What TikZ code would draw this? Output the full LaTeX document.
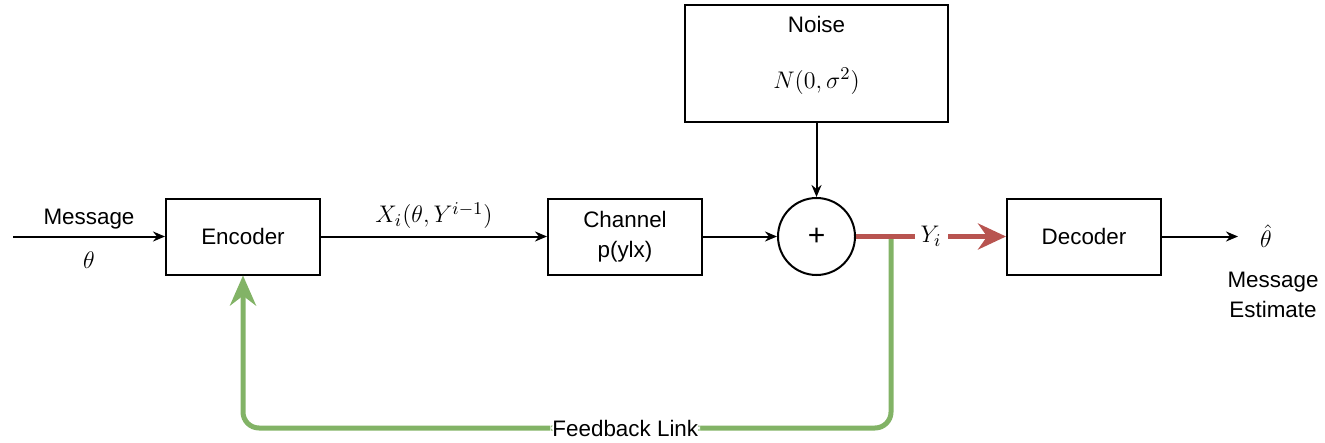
\documentclass[tikz,border=0pt]{standalone}
\usepackage{fontspec}
\setmainfont{Liberation Sans}
\usepackage{amsmath}
\usepackage{xcolor}
\usetikzlibrary{shapes.geometric, arrows, arrows.meta, positioning}
\definecolor{fbgreen}{RGB}{130,179,102}
\definecolor{outred}{RGB}{184,84,80}
\tikzstyle{arrow} = [line width=1pt,->,>={Stealth[length=6pt,width=5pt]}]
\tikzstyle{block} = [draw, line width=1pt, rectangle, minimum width=77pt, minimum height=38pt]
\tikzstyle{txt} = [font=\fontsize{11.2}{15}\selectfont]
\tikzstyle{mathtxt} = [font=\fontsize{13}{15}\selectfont]

\begin{document}
\begin{tikzpicture}[x=0.5pt, y=-0.5pt, every node/.style={txt}]
		\useasboundingbox (0,0) rectangle (1325,443);

		% blocks
		\node[block] (enc) at (243,236.5) {Encoder};
		\node[block, align=center] (chan) at (625,236.5) {Channel\\p(ylx)};
		\node[draw, line width=1pt, rectangle, minimum width=131.5pt, minimum height=58.5pt] (noise) at (816.5,64) {};
		\node (noisename) at (816.5,24) {Noise};
		\node[mathtxt] (noisepdf) at (816.5,81) {$N(0,\sigma^2)$};
		\node[draw, line width=1pt, circle, minimum size=38.5pt, font=\fontsize{15}{16}\selectfont] (sum) at (816.5,236.5) {+};
		\node[block] (dec) at (1084,236.5) {Decoder};

		% free ends
		\coordinate (msgin) at (13,236.5);
		\coordinate (out) at (1238,236.5);
		\coordinate (split) at (891,236.5);
		\coordinate (fbr) at (891,428);
		\coordinate (fbl) at (243,428);
		\node[mathtxt, inner sep=0pt] (thetahat) at (1266,236) {$\hat{\theta}$};
		\node[align=center, inner sep=1pt] (estimate) at (1273,295) {Message\\Estimate};

		% connectors
		\draw[arrow] (msgin) -- node[above] {Message} node[mathtxt, below=4pt] {$\theta$} (enc.west);
		\draw[arrow] (enc.east) -- node[mathtxt, above] {$X_i(\theta,Y^{i-1})$} (chan.west);
		\draw[arrow] (chan.east) -- (sum.west);
		\draw[arrow] (noise.south) -- (sum.north);
		\draw[arrow] (dec.east) -- (out);

		% feedback and output
		\draw[fbgreen, line width=2.5pt, rounded corners=8pt, -{Stealth[length=15pt,width=13pt]}]
			(split) -- (fbr) -- node[pos=0.41, fill=white, text=black, inner sep=1pt] {Feedback Link} (fbl) -- (enc.south);
		\draw[outred, line width=2.5pt, -{Stealth[length=14pt,width=13pt]}]
			(sum.east) -- node[mathtxt, fill=white, text=black, inner sep=3pt] {$Y_i$} (dec.west);
	\end{tikzpicture}
\end{document}
